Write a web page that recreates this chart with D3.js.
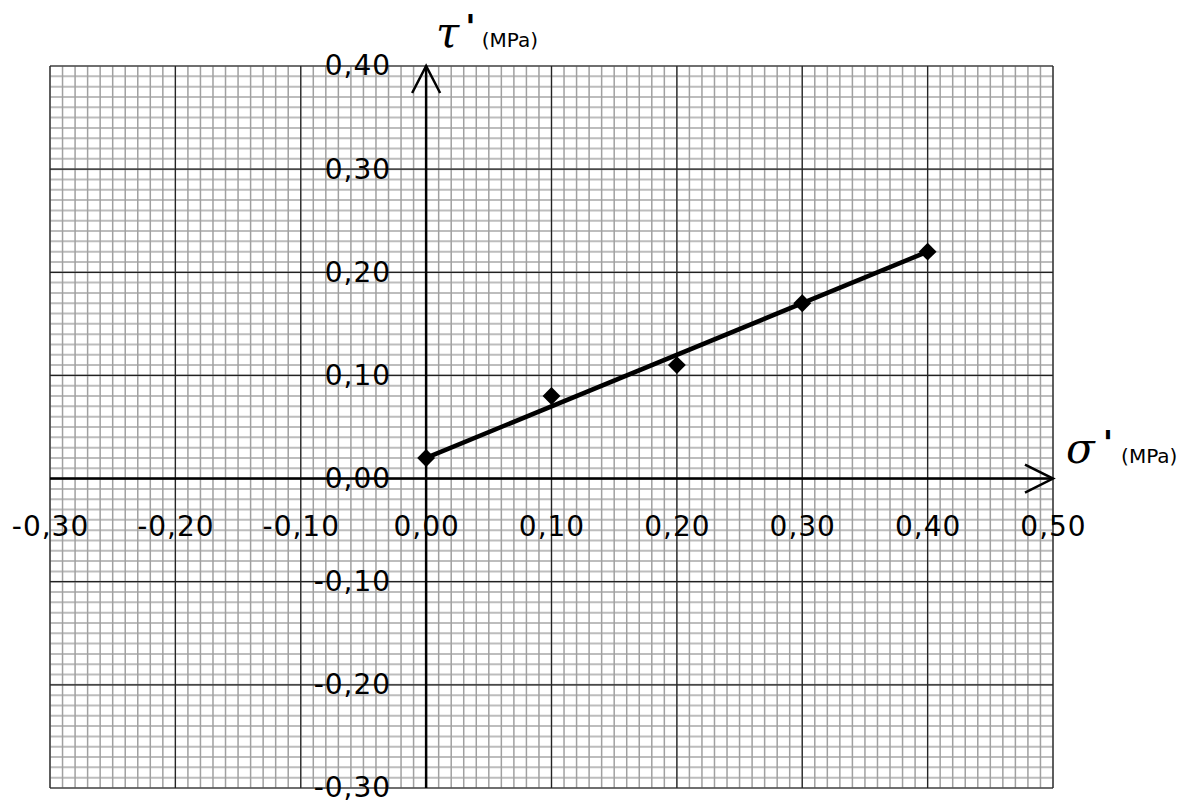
<!DOCTYPE html>
<html>
<head>
<meta charset="utf-8">
<script src="https://cdn.jsdelivr.net/npm/d3@7"></script>
<style>
  body { margin: 0; background: #fff; }
  svg text { font-family: "Comic Sans MS", "DejaVu Sans", "Noto Sans", sans-serif; fill: #000; }
</style>
</head>
<body>
<div id="chart"></div>
<script>
// data
var sigmaValues = [0.00, 0.10, 0.20, 0.30, 0.40];
var tauValues = [0.02, 0.08, 0.11, 0.17, 0.22];
var trendSigma = [0.00, 0.40];
var trendTau = [0.02, 0.22];
var xTicks = [-0.30, -0.20, -0.10, 0.00, 0.10, 0.20, 0.30, 0.40, 0.50];
var xTickLabels = ["-0,30", "-0,20", "-0,10", "0,00", "0,10", "0,20", "0,30", "0,40", "0,50"];
var yTicks = [-0.30, -0.20, -0.10, 0.00, 0.10, 0.20, 0.30, 0.40];
var yTickLabels = ["-0,30", "-0,20", "-0,10", "0,00", "0,10", "0,20", "0,30", "0,40"];

function drawChart() {
    var width = 1201, height = 803;
    var pLeft = 50, pRight = 1053, pTop = 66, pBottom = 788;

    var svg = d3.select("#chart").append("svg")
        .attr("width", width)
        .attr("height", height);

    var x = d3.scaleLinear().domain([-0.3, 0.5]).range([pLeft, pRight]);
    var y = d3.scaleLinear().domain([-0.3, 0.4]).range([pBottom, pTop]);

    // graph paper: minor lines every 0.01, major every 0.1
    var grid = svg.append("g").attr("class", "grid");
    var minorX = d3.range(-30, 51).map(function (d) { return d / 100; });
    var minorY = d3.range(-30, 41).map(function (d) { return d / 100; });

    grid.selectAll(".hminor").data(minorY).enter().append("line")
        .attr("x1", pLeft).attr("x2", pRight)
        .attr("y1", function (d) { return y(d); })
        .attr("y2", function (d) { return y(d); })
        .style("stroke", "#bdbdbd")
        .style("stroke-width", 2);

    grid.selectAll(".vminor").data(minorX).enter().append("line")
        .attr("y1", pTop).attr("y2", pBottom)
        .attr("x1", function (d) { return x(d); })
        .attr("x2", function (d) { return x(d); })
        .style("stroke", "#a0a0a0")
        .style("stroke-width", 1.5);

    grid.selectAll(".hmajor").data(yTicks).enter().append("line")
        .attr("x1", pLeft).attr("x2", pRight)
        .attr("y1", function (d) { return y(d); })
        .attr("y2", function (d) { return y(d); })
        .style("stroke", "#222")
        .style("stroke-width", 1.2);

    grid.selectAll(".vmajor").data(xTicks).enter().append("line")
        .attr("y1", pTop).attr("y2", pBottom)
        .attr("x1", function (d) { return x(d); })
        .attr("x2", function (d) { return x(d); })
        .style("stroke", "#222")
        .style("stroke-width", 1.2);

    // tick labels through d3 axes
    var xAxis = d3.axisBottom(x).tickValues(xTicks).tickSize(0)
        .tickFormat(function (d, i) { return xTickLabels[i]; });
    var gx = svg.append("g").attr("transform", "translate(0," + y(0) + ")").call(xAxis);
    gx.select(".domain").remove();
    gx.selectAll("text")
        .attr("y", 57).attr("dy", null)
        .style("font-size", "28px")
        .style("letter-spacing", "1px")
        .attr("font-family", null);

    var yAxis = d3.axisLeft(y).tickValues(yTicks).tickSize(0)
        .tickFormat(function (d, i) { return yTickLabels[i]; });
    var gy = svg.append("g").attr("transform", "translate(" + x(0) + ",0)").call(yAxis);
    gy.select(".domain").remove();
    gy.selectAll("text")
        .attr("x", -35)
        .style("font-size", "28px")
        .style("letter-spacing", "1px")
        .attr("font-family", null);

    // main axes with open arrowheads
    var axes = svg.append("g").style("stroke", "#000").style("stroke-width", 2.5).style("fill", "none");
    axes.append("line")
        .attr("x1", pLeft).attr("x2", pRight)
        .attr("y1", y(0)).attr("y2", y(0));
    axes.append("line")
        .attr("x1", x(0)).attr("x2", x(0))
        .attr("y1", pBottom).attr("y2", pTop);
    axes.append("path")
        .attr("d", "M" + (x(0) - 14) + "," + (pTop + 27) + "L" + x(0) + "," + pTop + "L" + (x(0) + 14) + "," + (pTop + 27));
    axes.append("path")
        .attr("d", "M" + (pRight - 28) + "," + (y(0) - 14) + "L" + pRight + "," + y(0) + "L" + (pRight - 28) + "," + (y(0) + 14));

    // trend line
    var line = d3.line()
        .x(function (d) { return x(d[0]); })
        .y(function (d) { return y(d[1]); });
    svg.append("path")
        .datum(d3.zip(trendSigma, trendTau))
        .attr("d", line)
        .style("fill", "none")
        .style("stroke", "#000")
        .style("stroke-width", 4.5);

    // points
    svg.selectAll(".pt").data(d3.zip(sigmaValues, tauValues)).enter().append("path")
        .attr("d", d3.symbol(d3.symbolSquare, 160))
        .attr("transform", function (d) { return "translate(" + x(d[0]) + "," + y(d[1]) + ") rotate(45)"; })
        .style("fill", "#000");

    // axis titles
    var tTitle = svg.append("text").attr("x", 436).attr("y", 47);
    tTitle.append("tspan").text("τ").style("font-size", "42px").style("font-style", "italic").style("font-family", "DejaVu Serif, serif");
    tTitle.append("tspan").text("'").attr("dx", 6).attr("dy", -8).style("font-size", "34px").style("font-weight", "bold");
    tTitle.append("tspan").text("(MPa)").attr("dx", 6).attr("dy", 8).style("font-size", "20px");

    var sTitle = svg.append("text").attr("x", 1066).attr("y", 463);
    sTitle.append("tspan").text("σ").style("font-size", "42px").style("font-style", "italic").style("font-family", "DejaVu Serif, serif");
    sTitle.append("tspan").text("'").attr("dx", 8).attr("dy", -8).style("font-size", "34px").style("font-weight", "bold");
    sTitle.append("tspan").text("(MPa)").attr("dx", 8).attr("dy", 8).style("font-size", "20px");
}

drawChart();
</script>
</body>
</html>
